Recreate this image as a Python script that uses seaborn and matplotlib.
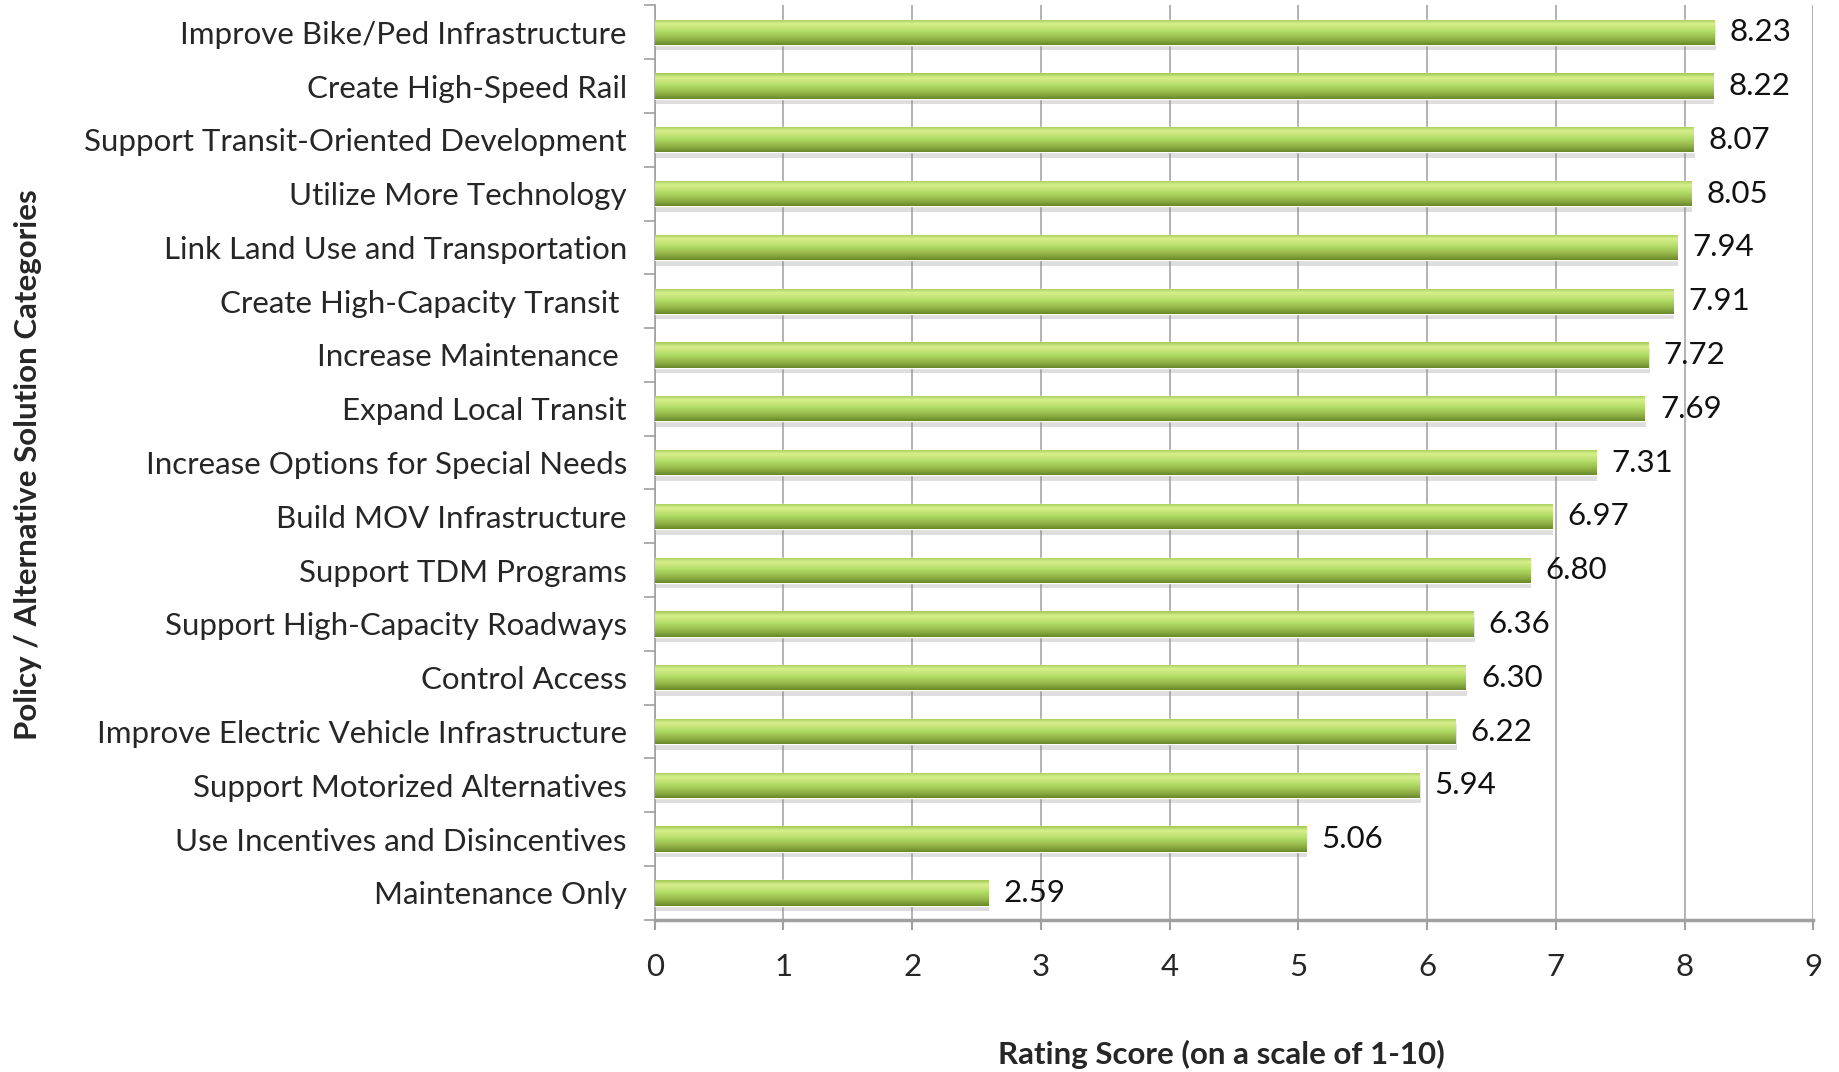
import numpy as np
import pandas as pd
import matplotlib
matplotlib.use('Agg')
import matplotlib.pyplot as plt
import matplotlib.patheffects as pe
from matplotlib.colors import LinearSegmentedColormap
from matplotlib.ticker import FixedLocator
import seaborn as sns

# Data
categories = ['Improve Bike/Ped Infrastructure', 'Create High-Speed Rail',
              'Support Transit-Oriented Development', 'Utilize More Technology',
              'Link Land Use and Transportation', 'Create High-Capacity Transit ',
              'Increase Maintenance ', 'Expand Local Transit',
              'Increase Options for Special Needs', 'Build MOV Infrastructure',
              'Support TDM Programs', 'Support High-Capacity Roadways',
              'Control Access', 'Improve Electric Vehicle Infrastructure',
              'Support Motorized Alternatives', 'Use Incentives and Disincentives',
              'Maintenance Only']
scores = [8.23, 8.22, 8.07, 8.05, 7.94, 7.91, 7.72, 7.69, 7.31,
          6.97, 6.80, 6.36, 6.30, 6.22, 5.94, 5.06, 2.59]
x_ticks = [0, 1, 2, 3, 4, 5, 6, 7, 8, 9]

df = pd.DataFrame({'category': categories, 'score': scores})

sns.set_style('white')
plt.rcParams['font.family'] = ['Lato', 'DejaVu Sans']
FS = 22.5

fig, ax = plt.subplots(figsize=(18.39, 10.72), dpi=100)
fig.subplots_adjust(left=0.356, right=0.986, top=0.995, bottom=0.142)

sns.barplot(data=df, x='score', y='category', orient='h', color='#9dc052',
            width=0.47, ax=ax, zorder=3)

# cylinder-like gradient on each bar (top -> bottom)
grad_cmap = LinearSegmentedColormap.from_list(
    'bar', ['#a2c654', '#d6f08c', '#c6e47a', '#addb62', '#9fc253', '#88a93f', '#68882c'])
grad = np.linspace(0, 1, 64).reshape(-1, 1)
for bar in ax.patches:
    bar.set_path_effects([pe.SimplePatchShadow(offset=(1, -4), shadow_rgbFace='#8a8a8a', alpha=0.28),
                          pe.Normal()])
    x0, y0 = bar.get_x(), bar.get_y()
    w, h = bar.get_width(), bar.get_height()
    im = ax.imshow(grad, cmap=grad_cmap, aspect='auto', interpolation='bicubic',
                   extent=(x0, x0 + w, y0 + h, y0), zorder=4)
    im.set_clip_path(bar)
    ax.annotate('{:.2f}'.format(w), xy=(x0 + w, y0 + h / 2), xytext=(11, 0),
                textcoords='offset points', ha='left', va='center',
                fontsize=FS, color='#111111')

ax.set_xlim(0, 9)
ax.set_ylim(len(categories) - 0.5, -0.5)
ax.set_xticks(x_ticks)
ax.xaxis.grid(True, color='#a6a6a6', lw=1.2, zorder=0)
ax.set_axisbelow(True)

for side in ['top', 'right']:
    ax.spines[side].set_visible(False)
ax.spines['left'].set_color('#a0a0a0')
ax.spines['left'].set_linewidth(1.2)
ax.spines['bottom'].set_color('#a0a0a0')
ax.spines['bottom'].set_linewidth(2.5)

ax.yaxis.set_minor_locator(FixedLocator(np.arange(-0.5, len(categories), 1)))
ax.tick_params(axis='y', which='major', length=0, pad=20, labelsize=FS)
ax.tick_params(axis='y', which='minor', length=8, width=1.2, color='#a0a0a0', left=True)
ax.tick_params(axis='x', which='major', length=7, width=1.5, color='#a0a0a0',
               pad=17, labelsize=FS, bottom=True)

ax.set_xlabel('Rating Score (on a scale of 1-10)', fontsize=FS, fontweight='bold')
ax.set_ylabel('Policy / Alternative Solution Categories', fontsize=FS, fontweight='bold')
ax.xaxis.set_label_coords(0.664, 0.030, transform=fig.transFigure)
ax.yaxis.set_label_coords(0.023, 0.567, transform=fig.transFigure)

fig.savefig('out.png')
